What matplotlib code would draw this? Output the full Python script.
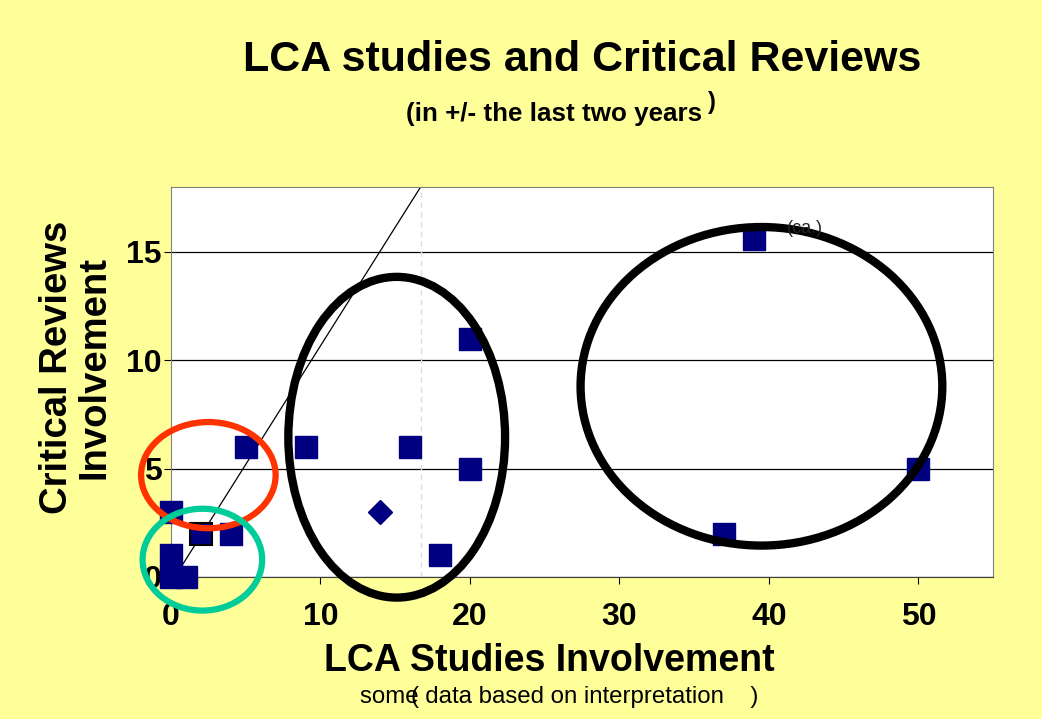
import matplotlib
matplotlib.use("Agg")
import matplotlib.pyplot as plt
from matplotlib.patches import Ellipse

plt.rcParams["font.family"] = ["Liberation Sans", "DejaVu Sans"]

# survey points (LCA studies, critical reviews)
lca_studies = [0, 0, 0, 1, 4, 5, 9, 16, 18, 20, 20, 37, 39, 50]
crit_reviews = [3, 1, 0, 0, 2, 6, 6, 6, 1, 11, 5, 2, 15.6, 5]
hl_point = (2, 2)          # square with black outline
diamond_point = (14, 3)
xticks = [0, 10, 20, 30, 40, 50]
yticks = [0, 5, 10, 15]

# hand-drawn groupings: (cx, cy, w, h, colour, lw)
groups = [
    (2.5, 4.7, 9.0, 4.9, "#ff3300", 4.5),
    (2.1, 0.8, 8.0, 4.7, "#00cc99", 4.5),
    (15.1, 6.45, 14.5, 14.8, "black", 6),
    (39.5, 8.8, 24.2, 14.7, "black", 6),
]

fig = plt.figure(figsize=(10.42, 7.19), dpi=100, facecolor="#ffff99")
ax = fig.add_axes([0.1641, 0.1975, 0.789, 0.5425])
ax.set_facecolor("white")

ax.plot([0.3, 16.7], [0.05, 18], color="black", lw=0.9, zorder=2)
ax.axvline(16.7, color="#dddddd", lw=1, ls=(0, (4, 3)), zorder=1)

ax.plot(lca_studies, crit_reviews, "s", color="#000080", ms=16.5, zorder=3,
        clip_on=False)
ax.plot(*hl_point, "s", color="#000080", mec="black", mew=1.5, ms=16.5, zorder=4,
        clip_on=False)
ax.plot(*diamond_point, "D", color="#000080", ms=12, zorder=3)

for cx, cy, w, h, c, lw in groups:
    ax.add_patch(Ellipse((cx, cy), w, h, fill=False, ec=c, lw=lw,
                         clip_on=False, zorder=5))

ax.text(41.2, 16.1, "(ca.)", fontsize=13, color="#222222", va="center", zorder=6)

ax.set_xlim(0, 55)
ax.set_ylim(0, 18)
ax.set_xticks(xticks)
ax.set_yticks(yticks)
ax.grid(axis="y", color="black", lw=0.9)
ax.set_axisbelow(True)
ax.tick_params(labelsize=23, length=5)
ax.tick_params(axis="x", pad=13)
ax.tick_params(axis="y", pad=2)
for lab in ax.get_xticklabels() + ax.get_yticklabels():
    lab.set_fontweight("bold")
for s in ("top", "right", "left"):
    ax.spines[s].set_color("#808080")
ax.spines["bottom"].set_color("#404040")

fig.text(0.559, 0.917, "LCA studies and Critical Reviews", fontsize=31,
         fontweight="bold", ha="center", va="center")
fig.text(0.532, 0.842, "(in +/- the last two years", fontsize=18.7,
         fontweight="bold", ha="center", va="center")
fig.text(0.683, 0.857, ")", fontsize=17, fontweight="bold", ha="center", va="center")
fig.text(0.527, 0.080, "LCA Studies Involvement", fontsize=27,
         fontweight="bold", ha="center", va="center")
fig.text(0.073, 0.489, "Critical Reviews\nInvolvement", fontsize=27.5,
         fontweight="bold", ha="center", va="center", rotation=90, linespacing=1.05)
fig.text(0.3455, 0.030, "some data based on interpretation    )", fontsize=17.3,
         ha="left", va="center")
fig.text(0.398, 0.030, "(", fontsize=17.3, ha="center", va="center")

fig.savefig("out.png", dpi=100, facecolor=fig.get_facecolor())
